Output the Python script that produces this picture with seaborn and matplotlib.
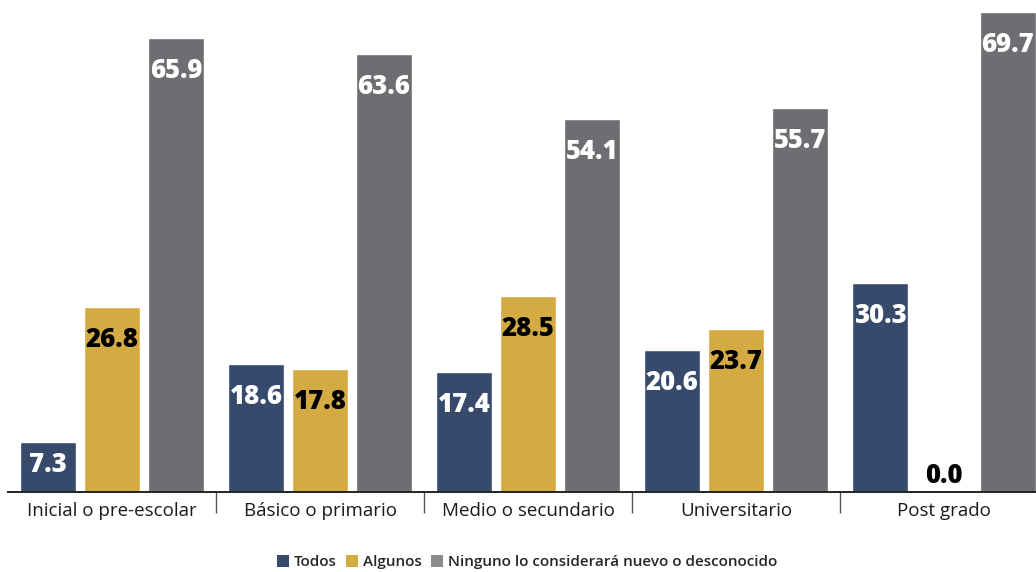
import pandas as pd
import seaborn as sns
import matplotlib.pyplot as plt
from matplotlib.patches import Patch

# niveles educativos y series
niveles = ["Inicial o pre-escolar", "Básico o primario", "Medio o secundario",
           "Universitario", "Post grado"]
series = ["Todos", "Algunos", "Ninguno lo considerará nuevo o desconocido"]
todos = [7.3, 18.6, 17.4, 20.6, 30.3]
algunos = [26.8, 17.8, 28.5, 23.7, 0.0]
ninguno = [65.9, 63.6, 54.1, 55.7, 69.7]

colores = ["#374a6b", "#d4aa42", "#6d6e72"]
colores_ley = ["#374a6b", "#d4aa42", "#8c8c8c"]
color_txt = ["white", "black", "white"]

#Arma el dataframe largo para seaborn
df = pd.DataFrame({"Nivel": niveles * 3,
                   "Serie": [series[0]] * 5 + [series[1]] * 5 + [series[2]] * 5,
                   "Valor": todos + algunos + ninguno})

sns.set_theme(style="white")
plt.rcParams['font.family'] = ['Open Sans', 'DejaVu Sans']

fig = plt.figure(figsize=(10.36, 5.72), dpi=100)
ax = fig.add_axes([8 / 1036, 80 / 572, 1040 / 1036, 492 / 572])

sns.barplot(data=df, x="Nivel", y="Valor", hue="Serie", order=niveles,
            hue_order=series, palette=colores, width=0.923, gap=0.125,
            saturation=1, legend=False, ax=ax)

ax.set_xlim(-0.5, 4.5)
ax.set_ylim(0, 71.4)
ax.set_xlabel("")
ax.set_ylabel("")
ax.set_yticks([])
for s in ["top", "left", "right"]:
    ax.spines[s].set_visible(False)
ax.spines["bottom"].set_color("#222222")
ax.spines["bottom"].set_linewidth(1.4)

#ticks separadores entre grupos y etiquetas en los centros
ax.set_xticks([0.5, 1.5, 2.5, 3.5])
ax.set_xticklabels([])
ax.tick_params(axis="x", which="major", length=15, width=1, color="#555555", bottom=True)
ax.set_xticks(range(5), minor=True)
ax.set_xticklabels(niveles, minor=True, fontsize=13.5, color="#1a1a1a")
ax.tick_params(axis="x", which="minor", length=0, pad=7)

#etiquetas de valores
px = 71.4 / 492
for i, cont in enumerate(ax.containers):
    for bar, v in zip(cont, [todos, algunos, ninguno][i]):
        x = bar.get_x() + bar.get_width() / 2
        if v == 0:
            ax.text(x, 16 * px, f"{v:.1f}", ha="center", va="center",
                    fontsize=18.5, fontweight="heavy", color="black")
        elif v < 10:
            ax.text(x, v - 23 * px, f"{v:.1f}", ha="center", va="center",
                    fontsize=18.5, fontweight="heavy", color=color_txt[i])
        else:
            ax.text(x, v - 33 * px, f"{v:.1f}", ha="center", va="center",
                    fontsize=18.5, fontweight="heavy", color=color_txt[i])

handles = [Patch(facecolor=c, edgecolor="none") for c in colores_ley]
fig.legend(handles, series, loc="center", bbox_to_anchor=(527 / 1036, 1 - 562 / 572),
           ncol=3, frameon=False, handlelength=0.8, handleheight=0.8,
           handletextpad=0.3, columnspacing=0.6,
           prop={"size": 11, "weight": "semibold"})

fig.savefig("out.png", dpi=100)
